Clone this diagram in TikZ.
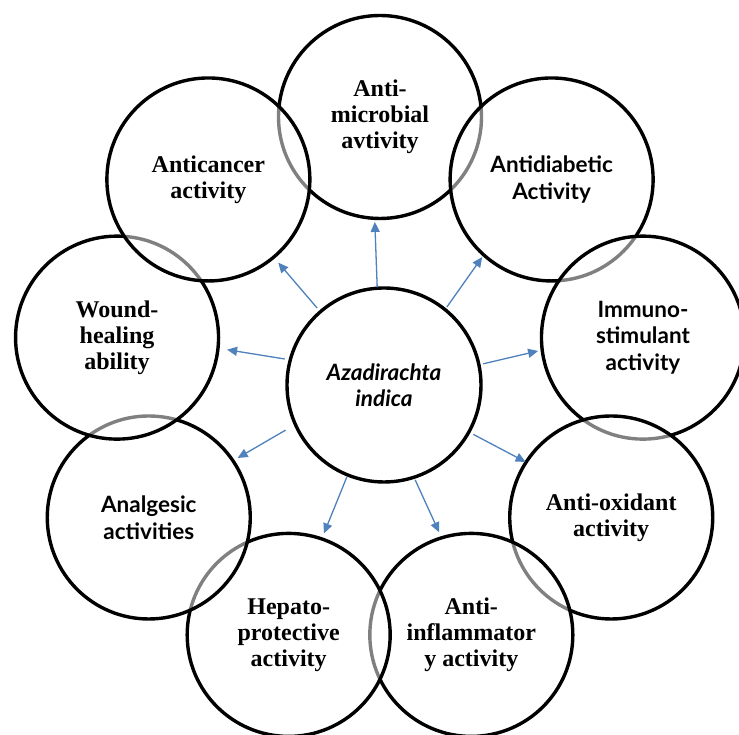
\documentclass[tikz,border=0pt]{standalone}
\usepackage{fontspec}
\setmainfont{Liberation Serif}
\newfontfamily\timesf{Liberation Serif}
\newfontfamily\latof{Lato}
\usetikzlibrary{arrows.meta}
\definecolor{arrblue}{RGB}{79,129,189}
\begin{document}
\begin{tikzpicture}[x=1pt,y=1pt,
  bub/.style={circle, draw=black, line width=3.4pt, fill=white, fill opacity=0.5,
    draw opacity=1, text opacity=1, minimum size=203pt, inner sep=0pt, outer sep=0pt,
    align=center},
  arr/.style={draw=arrblue, line width=1.3pt, -{Triangle[length=10pt,width=9pt]}}]
\clip (0,0) rectangle (739,735);
\useasboundingbox (0,0) rectangle (739,735);
\fill[white] (0,0) rectangle (739,735);
% central node
\node[bub, minimum size=194pt, font=\latof\bfseries\itshape\fontsize{22.5}{26.5}\selectfont]
  (c) at (384,350) {Azadirachta\\indica};
% outer ring, drawn from bottom layer to top layer
\node[bub, font=\timesf\bfseries\fontsize{24}{26}\selectfont] (am) at ({380+267*cos(90)},{351+267*sin(90)}) {Anti-\\microbial\\avtivity};
\node[bub, font=\latof\bfseries\fontsize{22.5}{26.5}\selectfont] (ad) at ({380+267*cos(50)},{351+267*sin(50)}) {Antidiabetic\\Activity};
\node[bub, font=\latof\bfseries\fontsize{22.5}{26.5}\selectfont] (im) at ({380+267*cos(10)},{351+267*sin(10)}) {Immuno-\\stimulant\\activity};
\node[bub, font=\timesf\bfseries\fontsize{24}{26}\selectfont] (ao) at ({380+267*cos(-30)},{351+267*sin(-30)}) {Anti-oxidant\\activity};
\node[bub, font=\timesf\bfseries\fontsize{24}{26}\selectfont] (ai) at ({380+267*cos(-70)},{351+267*sin(-70)}) {Anti-\\inflammator\\y activity};
\node[bub, font=\timesf\bfseries\fontsize{24}{26}\selectfont] (hp) at ({380+267*cos(-110)},{351+267*sin(-110)}) {Hepato-\\protective\\activity};
\node[bub, font=\latof\bfseries\fontsize{22.5}{26.5}\selectfont] (an) at ({380+267*cos(-150)},{351+267*sin(-150)}) {Analgesic\\activities};
\node[bub, font=\timesf\bfseries\fontsize{24}{26}\selectfont] (wh) at ({380+267*cos(170)},{351+267*sin(170)}) {Wound-\\healing\\ability};
\node[bub, font=\timesf\bfseries\fontsize{24}{26}\selectfont] (ac) at ({380+267*cos(130)},{351+267*sin(130)}) {Anticancer\\activity};
% arrows
\draw[arr, shorten <=1pt,    shorten >=3.6pt] (c.94)  -- (am.267);
\draw[arr, shorten <=3.3pt,  shorten >=2.7pt] (c.51)  -- (ad.228);
\draw[arr, shorten <=4.4pt,  shorten >=4.2pt] (c.12)  -- (im.187);
\draw[arr, shorten <=5pt,    shorten >=0.5pt] (c.331) -- (ao.147);
\draw[arr, shorten <=2.9pt,  shorten >=6.1pt] (c.288) -- (ai.107);
\draw[arr, shorten <=2.2pt,  shorten >=6pt]   (c.248) -- (hp.71);
\draw[arr, shorten <=11.3pt, shorten >=5.5pt] (c.204) -- (an.34);
\draw[arr, shorten <=5.6pt,  shorten >=9.2pt] (c.165) -- (wh.354);
\draw[arr, shorten <=5pt,    shorten >=7.2pt] (c.131) -- (ac.310);
\end{tikzpicture}
\end{document}
